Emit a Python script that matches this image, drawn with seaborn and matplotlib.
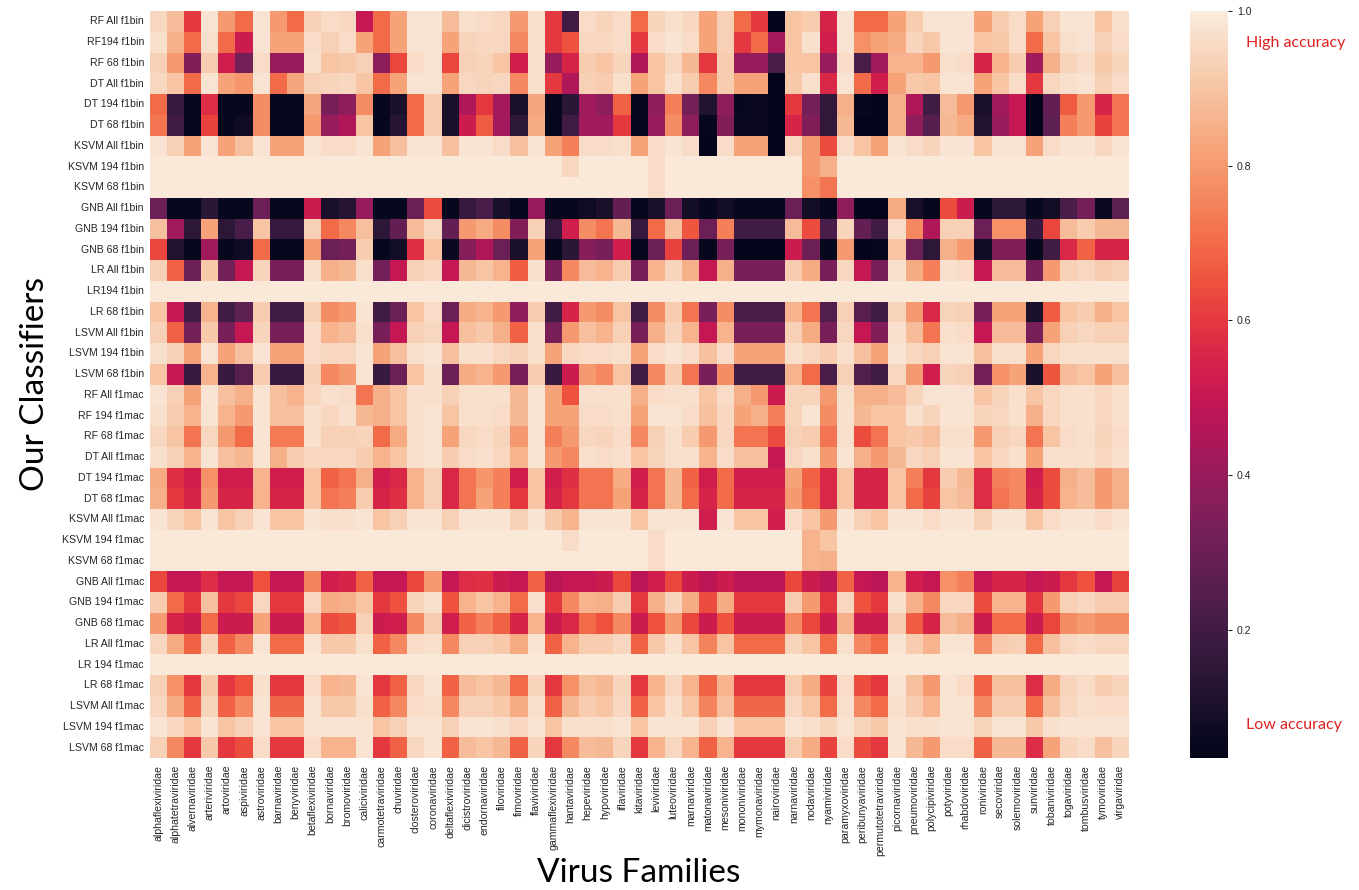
import matplotlib
matplotlib.use("Agg")
import matplotlib.pyplot as plt
import numpy as np
import pandas as pd
import seaborn as sns

families = ["alphaflexiviridae", "alphatetraviridae", "alvernaviridae", "arteriviridae", "artoviridae",
            "aspiviridae", "astroviridae", "barnaviridae", "benyviridae", "betaflexiviridae",
            "bornaviridae", "bromoviridae", "caliciviridae", "carmotetraviridae", "chuviridae",
            "closteroviridae", "coronaviridae", "deltaflexiviridae", "dicistroviridae", "endornaviridae",
            "filoviridae", "fimoviridae", "flaviviridae", "gammaflexiviridae", "hantaviridae",
            "hepeviridae", "hypoviridae", "iflaviridae", "kitaviridae", "leviviridae",
            "luteoviridae", "marnaviridae", "matonaviridae", "mesoniviridae", "mononiviridae",
            "mymonaviridae", "nairoviridae", "narnaviridae", "nodaviridae", "nyamiviridae",
            "paramyxoviridae", "peribunyaviridae", "permutotetraviridae", "picornaviridae", "pneumoviridae",
            "polycipiviridae", "potyviridae", "rhabdoviridae", "roniviridae", "secoviridae",
            "solemoviridae", "sunviridae", "tobaniviridae", "togaviridae", "tombusviridae",
            "tymoviridae", "virgaviridae"]

classifiers = ["RF All f1bin", "RF194 f1bin", "RF 68 f1bin", "DT All f1bin", "DT 194 f1bin", "DT 68 f1bin",
               "KSVM All f1bin", "KSVM 194 f1bin", "KSVM 68 f1bin", "GNB All f1bin", "GNB 194 f1bin",
               "GNB 68 f1bin", "LR All f1bin", "LR194 f1bin", "LR 68 f1bin", "LSVM All f1bin",
               "LSVM 194 f1bin", "LSVM 68 f1bin", "RF All f1mac", "RF 194 f1mac", "RF 68 f1mac",
               "DT All f1mac", "DT 194 f1mac", "DT 68 f1mac", "KSVM All f1mac", "KSVM 194 f1mac",
               "KSVM 68 f1mac", "GNB All f1mac", "GNB 194 f1mac", "GNB 68 f1mac", "LR All f1mac",
               "LR 194 f1mac", "LR 68 f1mac", "LSVM All f1mac", "LSVM 194 f1mac", "LSVM 68 f1mac"]

rf_all_f1bin = [0.95,0.88,0.60,0.98,0.80,0.70,0.98,0.80,0.70,0.93,0.96,0.95,0.50,0.70,0.82,0.98,0.98,0.88,0.97,0.96,
                0.95,0.80,0.97,0.60,0.20,0.96,0.94,0.96,0.70,0.94,0.97,0.95,0.82,0.93,0.70,0.60,0.04,0.90,0.92,0.55,
                0.98,0.70,0.70,0.82,0.92,0.98,0.98,0.98,0.82,0.92,0.96,0.82,0.93,0.98,0.98,0.90,0.97]
rf194_f1bin = [0.97,0.85,0.70,0.97,0.70,0.52,0.98,0.82,0.82,0.96,0.93,0.96,0.82,0.70,0.82,0.98,0.98,0.82,0.94,0.95,
               0.95,0.76,0.97,0.60,0.65,0.95,0.95,0.96,0.60,0.96,0.98,0.96,0.82,0.93,0.60,0.70,0.43,0.90,0.97,0.53,
               0.98,0.78,0.82,0.84,0.94,0.91,0.98,0.98,0.90,0.91,0.96,0.70,0.90,0.97,0.98,0.93,0.96]
rf68_f1bin = [0.93,0.80,0.35,0.92,0.53,0.32,0.96,0.40,0.40,0.97,0.90,0.91,0.93,0.37,0.63,0.96,0.98,0.63,0.93,0.94,
              0.90,0.53,0.97,0.40,0.55,0.92,0.90,0.94,0.45,0.90,0.95,0.87,0.60,0.92,0.40,0.40,0.22,0.90,0.90,0.40,
              0.96,0.22,0.42,0.86,0.86,0.80,0.97,0.96,0.55,0.86,0.92,0.42,0.85,0.94,0.96,0.91,0.94]
dt_all_f1bin = [0.95,0.90,0.70,0.98,0.82,0.79,0.98,0.70,0.83,0.93,0.94,0.95,0.90,0.70,0.82,0.98,0.98,0.82,0.95,0.94,
                0.95,0.76,0.97,0.60,0.45,0.93,0.92,0.97,0.82,0.90,0.97,0.92,0.76,0.92,0.82,0.82,0.04,0.91,0.97,0.56,
                0.98,0.70,0.53,0.82,0.91,0.90,0.98,0.98,0.82,0.90,0.96,0.60,0.95,0.97,0.98,0.93,0.96]
dt194_f1bin = [0.70,0.17,0.05,0.57,0.05,0.05,0.77,0.05,0.05,0.83,0.33,0.38,0.77,0.05,0.10,0.70,0.92,0.10,0.45,0.60,
               0.43,0.10,0.83,0.05,0.14,0.42,0.38,0.68,0.05,0.38,0.74,0.32,0.12,0.38,0.05,0.06,0.04,0.60,0.32,0.16,
               0.85,0.05,0.04,0.85,0.45,0.20,0.88,0.80,0.10,0.42,0.50,0.04,0.28,0.67,0.80,0.55,0.72]
dt68_f1bin = [0.72,0.20,0.05,0.62,0.05,0.07,0.77,0.05,0.05,0.80,0.40,0.45,0.90,0.05,0.13,0.70,0.92,0.10,0.52,0.67,
              0.43,0.15,0.84,0.05,0.20,0.42,0.42,0.60,0.05,0.40,0.77,0.38,0.05,0.35,0.06,0.06,0.04,0.55,0.35,0.16,
              0.87,0.04,0.04,0.85,0.38,0.25,0.87,0.84,0.12,0.40,0.50,0.04,0.27,0.74,0.80,0.62,0.72]
ksvm_all_f1bin = [0.98,0.93,0.82,0.98,0.82,0.89,0.98,0.82,0.82,0.98,0.96,0.96,0.98,0.82,0.89,0.98,0.98,0.89,0.98,0.98,
                  0.96,0.89,0.98,0.82,0.74,0.96,0.96,0.97,0.82,0.96,0.98,0.96,0.04,0.96,0.82,0.82,0.04,0.95,0.80,0.64,
                  0.96,0.90,0.82,0.98,0.96,0.94,0.98,0.98,0.90,0.98,0.98,0.82,0.96,0.98,0.98,0.95,0.98]
ksvm194_f1bin = [0.99,0.99,0.99,0.99,0.99,0.99,0.99,0.99,0.99,0.99,0.99,0.99,0.99,0.99,0.99,0.99,0.99,0.99,0.99,0.99,
                 0.99,0.99,0.99,0.99,0.95,0.99,0.99,0.99,0.99,0.96,0.99,0.99,0.99,0.99,0.99,0.99,0.99,0.99,0.80,0.85,
                 0.99,0.99,0.99,0.99,0.99,0.99,0.99,0.99,0.99,0.99,0.99,0.99,0.99,0.99,0.99,0.99,0.99]
ksvm68_f1bin = [0.99,0.99,0.99,0.99,0.99,0.99,0.99,0.99,0.99,0.99,0.99,0.99,0.99,0.99,0.99,0.99,0.99,0.99,0.99,0.99,
                0.99,0.99,0.99,0.99,0.99,0.99,0.99,0.99,0.99,0.96,0.99,0.99,0.99,0.99,0.99,0.99,0.99,0.99,0.78,0.72,
                0.99,0.99,0.99,0.99,0.99,0.99,0.99,0.99,0.99,0.99,0.99,0.99,0.99,0.99,0.99,0.99,0.99]
gnb_all_f1bin = [0.30,0.05,0.05,0.14,0.05,0.05,0.30,0.05,0.05,0.52,0.10,0.13,0.40,0.05,0.05,0.30,0.64,0.05,0.17,0.22,
                 0.10,0.05,0.40,0.05,0.05,0.07,0.10,0.28,0.05,0.10,0.30,0.08,0.05,0.08,0.05,0.05,0.05,0.30,0.08,0.05,
                 0.38,0.04,0.04,0.84,0.10,0.05,0.64,0.52,0.05,0.15,0.15,0.05,0.08,0.22,0.32,0.06,0.27]
gnb194_f1bin = [0.89,0.42,0.15,0.82,0.15,0.22,0.90,0.17,0.17,0.93,0.70,0.76,0.89,0.15,0.28,0.88,0.95,0.28,0.80,0.84,
                0.77,0.35,0.93,0.17,0.53,0.77,0.72,0.87,0.17,0.70,0.89,0.66,0.30,0.74,0.20,0.20,0.20,0.88,0.64,0.22,
                0.94,0.28,0.20,0.96,0.76,0.45,0.93,0.93,0.30,0.78,0.78,0.18,0.63,0.88,0.92,0.87,0.87]
gnb68_f1bin = [0.63,0.12,0.05,0.42,0.05,0.07,0.70,0.05,0.05,0.80,0.30,0.32,0.92,0.05,0.08,0.58,0.90,0.06,0.36,0.45,
               0.30,0.10,0.82,0.05,0.14,0.36,0.33,0.53,0.05,0.30,0.62,0.30,0.05,0.33,0.04,0.04,0.04,0.52,0.30,0.05,
               0.80,0.04,0.05,0.90,0.30,0.15,0.85,0.80,0.07,0.35,0.35,0.05,0.20,0.56,0.68,0.55,0.55]
lr_all_f1bin = [0.93,0.68,0.30,0.91,0.32,0.50,0.94,0.33,0.33,0.97,0.85,0.87,0.97,0.32,0.50,0.93,0.95,0.50,0.87,0.90,
                0.86,0.67,0.97,0.33,0.76,0.88,0.86,0.92,0.33,0.86,0.94,0.85,0.50,0.85,0.33,0.33,0.33,0.92,0.84,0.33,
                0.95,0.50,0.33,0.97,0.84,0.74,0.97,0.96,0.50,0.88,0.88,0.33,0.80,0.93,0.95,0.92,0.93]
lr194_f1bin = [0.99,0.99,0.99,0.99,0.99,0.99,0.99,0.99,0.99,0.99,0.99,0.99,0.99,0.99,0.99,0.99,0.99,0.99,0.99,0.99,
               0.99,0.99,0.99,0.99,0.99,0.99,0.99,0.99,0.99,0.99,0.99,0.99,0.99,0.99,0.99,0.99,0.99,0.99,0.99,0.99,
               0.99,0.99,0.99,0.99,0.99,0.99,0.99,0.99,0.99,0.99,0.99,0.99,0.99,0.99,0.99,0.99,0.99]
lr68_f1bin = [0.90,0.50,0.20,0.86,0.20,0.27,0.92,0.20,0.20,0.93,0.77,0.80,0.98,0.20,0.30,0.90,0.96,0.30,0.84,0.86,
              0.80,0.38,0.92,0.20,0.55,0.80,0.77,0.90,0.20,0.77,0.92,0.72,0.33,0.77,0.22,0.22,0.22,0.86,0.72,0.24,
              0.93,0.26,0.20,0.94,0.80,0.56,0.94,0.93,0.33,0.82,0.82,0.10,0.67,0.90,0.92,0.85,0.90]
lsvm_all_f1bin = [0.93,0.68,0.32,0.91,0.33,0.50,0.94,0.33,0.33,0.96,0.86,0.88,0.97,0.33,0.50,0.93,0.95,0.50,0.89,0.91,
                  0.85,0.68,0.97,0.33,0.80,0.89,0.86,0.93,0.33,0.85,0.94,0.86,0.50,0.86,0.33,0.33,0.33,0.93,0.84,0.33,
                  0.95,0.50,0.35,0.97,0.88,0.72,0.97,0.96,0.50,0.88,0.88,0.33,0.82,0.93,0.95,0.93,0.93]
lsvm194_f1bin = [0.97,0.93,0.82,0.98,0.82,0.89,0.98,0.82,0.82,0.96,0.95,0.95,0.98,0.82,0.89,0.97,0.98,0.89,0.97,0.97,
                 0.95,0.93,0.97,0.82,0.95,0.96,0.96,0.97,0.82,0.96,0.98,0.96,0.89,0.96,0.82,0.82,0.82,0.97,0.95,0.92,
                 0.97,0.89,0.82,0.98,0.95,0.93,0.98,0.98,0.89,0.97,0.97,0.82,0.95,0.97,0.97,0.97,0.97]
lsvm68_f1bin = [0.90,0.50,0.18,0.86,0.18,0.26,0.92,0.18,0.18,0.93,0.76,0.80,0.98,0.18,0.30,0.90,0.97,0.30,0.84,0.86,
                0.80,0.33,0.92,0.18,0.52,0.80,0.76,0.90,0.20,0.76,0.92,0.72,0.33,0.77,0.20,0.20,0.20,0.86,0.70,0.22,
                0.93,0.24,0.20,0.95,0.80,0.53,0.94,0.93,0.32,0.78,0.82,0.10,0.66,0.88,0.90,0.82,0.89]
rf_all_f1mac = [0.98,0.93,0.82,0.98,0.89,0.85,0.98,0.89,0.86,0.95,0.97,0.96,0.72,0.85,0.90,0.97,0.97,0.93,0.97,0.97,
                0.97,0.87,0.98,0.82,0.65,0.97,0.97,0.97,0.85,0.96,0.97,0.97,0.90,0.96,0.85,0.80,0.52,0.94,0.94,0.80,
                0.97,0.85,0.85,0.88,0.94,0.98,0.98,0.98,0.90,0.94,0.97,0.90,0.95,0.97,0.97,0.95,0.97]
rf194_f1mac = [0.97,0.92,0.86,0.98,0.86,0.80,0.98,0.89,0.89,0.97,0.95,0.97,0.87,0.85,0.90,0.97,0.98,0.90,0.97,0.97,
               0.96,0.87,0.98,0.82,0.82,0.96,0.96,0.97,0.82,0.98,0.98,0.96,0.89,0.95,0.82,0.85,0.74,0.94,0.98,0.77,
               0.97,0.87,0.90,0.90,0.97,0.94,0.98,0.98,0.94,0.95,0.97,0.85,0.95,0.97,0.97,0.95,0.97]
rf68_f1mac = [0.95,0.90,0.72,0.95,0.80,0.70,0.98,0.73,0.73,0.97,0.93,0.93,0.94,0.70,0.84,0.97,0.98,0.82,0.95,0.96,
              0.94,0.80,0.98,0.74,0.80,0.95,0.94,0.96,0.76,0.93,0.97,0.92,0.80,0.95,0.72,0.72,0.64,0.93,0.92,0.72,
              0.97,0.64,0.72,0.90,0.91,0.89,0.97,0.97,0.80,0.93,0.95,0.72,0.90,0.96,0.97,0.94,0.96]
dt_all_f1mac = [0.97,0.93,0.86,0.98,0.89,0.87,0.98,0.85,0.92,0.95,0.95,0.95,0.92,0.86,0.90,0.97,0.98,0.92,0.96,0.97,
                0.95,0.86,0.98,0.80,0.76,0.97,0.96,0.97,0.90,0.94,0.97,0.97,0.86,0.96,0.89,0.89,0.50,0.95,0.97,0.80,
                0.98,0.85,0.80,0.87,0.95,0.93,0.98,0.98,0.90,0.95,0.97,0.82,0.97,0.97,0.97,0.95,0.97]
dt194_f1mac = [0.84,0.58,0.53,0.78,0.53,0.53,0.86,0.53,0.53,0.90,0.68,0.72,0.85,0.53,0.56,0.86,0.93,0.56,0.72,0.79,
               0.74,0.53,0.90,0.53,0.58,0.72,0.72,0.84,0.53,0.72,0.87,0.68,0.53,0.70,0.53,0.53,0.53,0.82,0.68,0.56,
               0.90,0.55,0.55,0.90,0.74,0.60,0.92,0.87,0.57,0.74,0.76,0.53,0.64,0.85,0.88,0.80,0.85]
dt68_f1mac = [0.85,0.60,0.55,0.80,0.55,0.55,0.86,0.55,0.55,0.90,0.72,0.74,0.92,0.55,0.58,0.86,0.93,0.56,0.72,0.82,
              0.74,0.60,0.90,0.55,0.60,0.72,0.72,0.82,0.55,0.72,0.87,0.70,0.55,0.70,0.55,0.55,0.55,0.80,0.70,0.56,
              0.90,0.55,0.55,0.90,0.70,0.62,0.90,0.88,0.57,0.72,0.76,0.55,0.64,0.86,0.88,0.80,0.85]
ksvm_all_f1mac = [0.98,0.94,0.90,0.98,0.90,0.93,0.98,0.90,0.90,0.98,0.97,0.97,0.98,0.90,0.93,0.98,0.98,0.93,0.98,0.98,
                  0.98,0.93,0.98,0.91,0.86,0.98,0.98,0.98,0.90,0.98,0.98,0.98,0.53,0.98,0.90,0.90,0.53,0.96,0.90,0.80,
                  0.98,0.93,0.90,0.98,0.98,0.96,0.98,0.98,0.93,0.98,0.98,0.90,0.96,0.98,0.98,0.96,0.98]
ksvm194_f1mac = [0.99,0.99,0.99,0.99,0.99,0.99,0.99,0.99,0.99,0.99,0.99,0.99,0.99,0.99,0.99,0.99,0.99,0.99,0.99,0.99,
                 0.99,0.99,0.99,0.99,0.96,0.99,0.99,0.99,0.99,0.96,0.99,0.99,0.99,0.99,0.99,0.99,0.99,0.99,0.86,0.90,
                 0.99,0.99,0.99,0.99,0.99,0.99,0.99,0.99,0.99,0.99,0.99,0.99,0.99,0.99,0.99,0.99,0.99]
ksvm68_f1mac = [0.99,0.99,0.99,0.99,0.99,0.99,0.99,0.99,0.99,0.99,0.99,0.99,0.99,0.99,0.99,0.99,0.99,0.99,0.99,0.99,
                0.99,0.99,0.99,0.99,0.99,0.99,0.99,0.99,0.99,0.96,0.99,0.99,0.99,0.99,0.99,0.99,0.99,0.99,0.86,0.85,
                0.99,0.99,0.99,0.99,0.99,0.99,0.99,0.99,0.99,0.99,0.99,0.99,0.99,0.99,0.99,0.99,0.99]
gnb_all_f1mac = [0.63,0.50,0.50,0.57,0.50,0.50,0.65,0.50,0.50,0.75,0.53,0.55,0.68,0.50,0.50,0.63,0.80,0.50,0.57,0.58,
                 0.52,0.50,0.68,0.48,0.50,0.50,0.52,0.63,0.48,0.53,0.63,0.52,0.48,0.52,0.48,0.48,0.48,0.63,0.52,0.48,
                 0.68,0.50,0.48,0.86,0.53,0.50,0.78,0.74,0.50,0.55,0.55,0.50,0.52,0.60,0.65,0.50,0.62]
gnb194_f1mac = [0.92,0.70,0.60,0.89,0.60,0.63,0.95,0.60,0.60,0.95,0.84,0.85,0.90,0.60,0.65,0.94,0.97,0.65,0.86,0.90,
                0.86,0.70,0.97,0.60,0.76,0.86,0.85,0.92,0.60,0.85,0.94,0.84,0.64,0.84,0.60,0.60,0.60,0.92,0.80,0.60,
                0.95,0.65,0.60,0.97,0.85,0.76,0.95,0.95,0.64,0.86,0.86,0.60,0.80,0.93,0.95,0.92,0.92]
gnb68_f1mac = [0.80,0.55,0.52,0.70,0.52,0.52,0.82,0.52,0.52,0.86,0.64,0.66,0.93,0.52,0.53,0.76,0.92,0.53,0.68,0.74,
               0.68,0.55,0.86,0.52,0.56,0.70,0.65,0.76,0.52,0.65,0.80,0.63,0.52,0.65,0.52,0.52,0.52,0.76,0.63,0.52,
               0.85,0.52,0.52,0.92,0.67,0.55,0.88,0.85,0.52,0.70,0.70,0.52,0.63,0.77,0.80,0.77,0.77]
lr_all_f1mac = [0.95,0.84,0.68,0.94,0.68,0.76,0.98,0.70,0.70,0.98,0.91,0.91,0.97,0.68,0.76,0.96,0.97,0.76,0.93,0.93,
                0.91,0.84,0.98,0.68,0.86,0.92,0.92,0.95,0.68,0.91,0.97,0.90,0.75,0.90,0.70,0.70,0.70,0.94,0.90,0.70,
                0.97,0.76,0.70,0.98,0.92,0.86,0.98,0.98,0.76,0.92,0.93,0.70,0.89,0.95,0.96,0.95,0.95]
lr194_f1mac = [0.99,0.99,0.99,0.99,0.99,0.99,0.99,0.99,0.99,0.99,0.99,0.99,0.99,0.99,0.99,0.99,0.99,0.99,0.99,0.99,
               0.99,0.99,0.99,0.99,0.99,0.99,0.99,0.99,0.99,0.99,0.99,0.99,0.99,0.99,0.99,0.99,0.99,0.99,0.99,0.99,
               0.99,0.99,0.99,0.99,0.99,0.99,0.99,0.99,0.99,0.99,0.99,0.99,0.99,0.99,0.99,0.99,0.99]
lr68_f1mac = [0.93,0.78,0.60,0.91,0.60,0.65,0.97,0.60,0.60,0.96,0.86,0.87,0.98,0.60,0.68,0.95,0.98,0.68,0.88,0.90,
              0.87,0.70,0.94,0.60,0.78,0.89,0.87,0.94,0.60,0.86,0.95,0.86,0.68,0.86,0.60,0.60,0.60,0.92,0.84,0.62,
              0.96,0.64,0.60,0.98,0.89,0.80,0.98,0.96,0.68,0.89,0.89,0.57,0.84,0.94,0.96,0.92,0.94]
lsvm_all_f1mac = [0.95,0.84,0.68,0.94,0.68,0.76,0.98,0.69,0.69,0.98,0.91,0.91,0.97,0.68,0.76,0.96,0.97,0.76,0.93,0.93,
                  0.91,0.84,0.97,0.68,0.87,0.92,0.90,0.95,0.68,0.90,0.97,0.90,0.75,0.89,0.69,0.69,0.69,0.95,0.90,0.70,
                  0.97,0.76,0.70,0.97,0.92,0.86,0.98,0.98,0.76,0.92,0.92,0.70,0.89,0.95,0.97,0.96,0.96]
lsvm194_f1mac = [0.98,0.95,0.90,0.98,0.90,0.93,0.98,0.90,0.90,0.98,0.98,0.98,0.98,0.90,0.93,0.98,0.98,0.93,0.98,0.98,
                 0.97,0.95,0.98,0.90,0.97,0.97,0.97,0.98,0.90,0.98,0.98,0.98,0.93,0.98,0.90,0.90,0.90,0.98,0.97,0.94,
                 0.98,0.94,0.91,0.98,0.97,0.97,0.98,0.98,0.94,0.98,0.98,0.91,0.97,0.98,0.98,0.98,0.98]
lsvm68_f1mac = [0.93,0.76,0.60,0.91,0.60,0.64,0.96,0.60,0.60,0.96,0.86,0.86,0.98,0.60,0.68,0.95,0.98,0.68,0.88,0.90,
                0.87,0.68,0.94,0.60,0.76,0.88,0.87,0.94,0.60,0.86,0.95,0.86,0.68,0.86,0.60,0.60,0.60,0.92,0.84,0.62,
                0.96,0.64,0.60,0.98,0.87,0.80,0.96,0.96,0.68,0.87,0.87,0.57,0.82,0.94,0.96,0.89,0.94]

rows = [rf_all_f1bin, rf194_f1bin, rf68_f1bin, dt_all_f1bin, dt194_f1bin, dt68_f1bin,
        ksvm_all_f1bin, ksvm194_f1bin, ksvm68_f1bin, gnb_all_f1bin, gnb194_f1bin, gnb68_f1bin,
        lr_all_f1bin, lr194_f1bin, lr68_f1bin, lsvm_all_f1bin, lsvm194_f1bin, lsvm68_f1bin,
        rf_all_f1mac, rf194_f1mac, rf68_f1mac, dt_all_f1mac, dt194_f1mac, dt68_f1mac,
        ksvm_all_f1mac, ksvm194_f1mac, ksvm68_f1mac, gnb_all_f1mac, gnb194_f1mac, gnb68_f1mac,
        lr_all_f1mac, lr194_f1mac, lr68_f1mac, lsvm_all_f1mac, lsvm194_f1mac, lsvm68_f1mac]

df = pd.DataFrame(rows, index=classifiers, columns=families)

plt.rcParams["font.family"] = ["Liberation Sans", "DejaVu Sans"]

W, H = 1359, 890
fig = plt.figure(figsize=(W / 100, H / 100), dpi=100)
fig.patch.set_facecolor("white")

left, right, top, bottom = 149.5, 1129, 11, 758
ax = fig.add_axes([left / W, 1 - bottom / H, (right - left) / W, (bottom - top) / H])
cax = fig.add_axes([1190 / W, 1 - bottom / H, 38 / W, (bottom - top) / H])

sns.heatmap(df, ax=ax, cbar_ax=cax, cmap="rocket", vmin=0.034, vmax=1.0,
            xticklabels=True, yticklabels=True)

ax.set_xlabel("")
ax.set_ylabel("")
ax.tick_params(axis="y", labelsize=7.6, colors="#262626", length=0, pad=4)
ax.tick_params(axis="x", labelsize=7.6, colors="#262626", length=0, pad=5)
for lab in ax.get_xticklabels():
    lab.set_rotation(90)
for lab in ax.get_yticklabels():
    lab.set_rotation(0)

cax.set_yticks([0.2, 0.4, 0.6, 0.8, 1.0])
cax.tick_params(labelsize=7.6, colors="#262626", length=3)

title_font = ["Lato", "DejaVu Sans"]
fig.text(639 / W, 1 - 873 / H, "Virus Families", ha="center", va="center",
         fontsize=24, family=title_font, color="black")
fig.text(35 / W, 1 - 384 / H, "Our Classifiers", ha="center", va="center", rotation=90,
         fontsize=24, family=title_font, color="black")

fig.text(1246 / W, 1 - 43 / H, "High accuracy", ha="left", va="center",
         fontsize=11.5, family=title_font, color="#E0201E")
fig.text(1246 / W, 1 - 725 / H, "Low accuracy", ha="left", va="center",
         fontsize=11.5, family=title_font, color="#E0201E")

fig.savefig("out.png", dpi=100, facecolor="white")
